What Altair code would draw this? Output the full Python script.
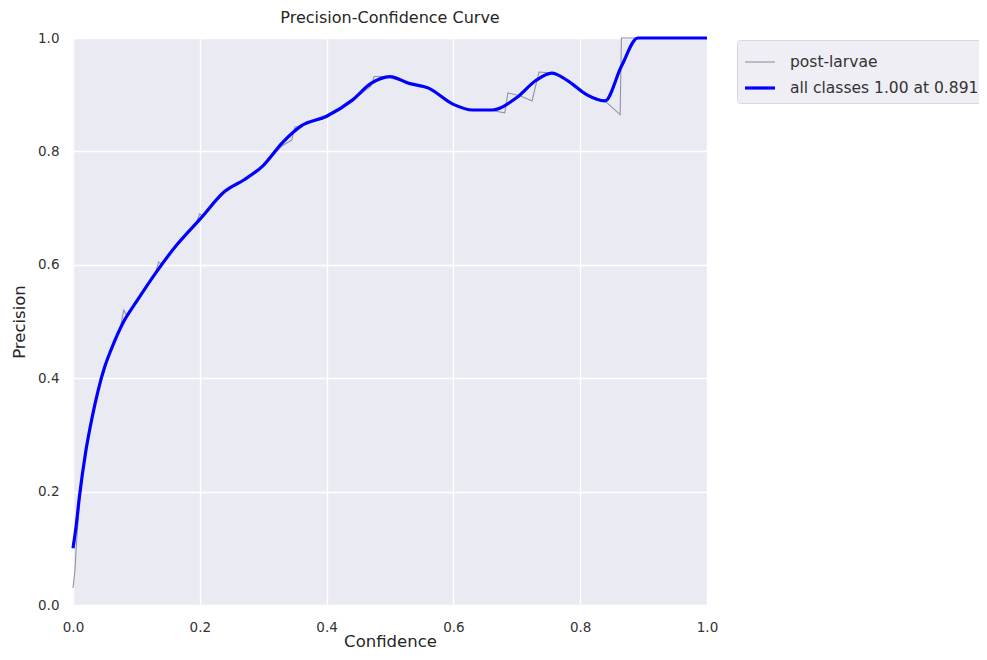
import altair as alt
import pandas as pd

# ---- data ----
series_names = ["post-larvae", "all classes 1.00 at 0.891"]
series_colors = ["#8e92a6", "#0000ff"]
series_widths = [1.1, 3.2]

# thin per-class curve (post-larvae)
conf_pl = [0.0, 0.003, 0.005, 0.01, 0.02, 0.03, 0.04, 0.06, 0.075, 0.08,
           0.085, 0.10, 0.13, 0.135, 0.14, 0.16, 0.195, 0.20, 0.205, 0.24,
           0.27, 0.30, 0.33, 0.345, 0.35, 0.36, 0.40, 0.44, 0.47, 0.475,
           0.49, 0.50, 0.53, 0.56, 0.60, 0.63, 0.66, 0.681, 0.686, 0.705,
           0.724, 0.735, 0.757, 0.78, 0.81, 0.839, 0.863, 0.865, 1.0]
prec_pl = [0.03, 0.06, 0.10, 0.18, 0.27, 0.33, 0.38, 0.45, 0.49, 0.52,
           0.51, 0.535, 0.585, 0.605, 0.60, 0.63, 0.675, 0.69, 0.685, 0.73,
           0.75, 0.775, 0.81, 0.82, 0.843, 0.845, 0.86, 0.89, 0.915, 0.932,
           0.932, 0.93, 0.92, 0.912, 0.883, 0.873, 0.872, 0.868, 0.903, 0.898,
           0.889, 0.94, 0.938, 0.925, 0.90, 0.889, 0.865, 1.0, 1.0]

# thick smoothed curve (all classes)
conf_all = [0.0, 0.005, 0.01, 0.02, 0.03, 0.04, 0.05, 0.06, 0.08, 0.10,
            0.13, 0.16, 0.20, 0.24, 0.27, 0.30, 0.33, 0.36, 0.40, 0.44,
            0.47, 0.50, 0.53, 0.56, 0.60, 0.63, 0.66, 0.70, 0.73, 0.755,
            0.78, 0.81, 0.839, 0.865, 0.891, 0.95, 1.0]
prec_all = [0.10, 0.14, 0.19, 0.27, 0.33, 0.38, 0.42, 0.45, 0.50, 0.535,
            0.585, 0.63, 0.68, 0.73, 0.75, 0.775, 0.815, 0.845, 0.862, 0.89,
            0.92, 0.932, 0.92, 0.912, 0.883, 0.873, 0.873, 0.895, 0.925, 0.938,
            0.925, 0.90, 0.889, 0.95, 1.0, 1.0, 1.0]

axis_ticks = [0.0, 0.2, 0.4, 0.6, 0.8, 1.0]

df_pl = pd.DataFrame({"Confidence": conf_pl, "Precision": prec_pl,
                      "series": series_names[0], "order": range(len(conf_pl))})
df_all = pd.DataFrame({"Confidence": conf_all, "Precision": prec_all,
                       "series": series_names[1], "order": range(len(conf_all))})

FONT = "DejaVu Sans"

x_enc = alt.X("Confidence:Q",
              scale=alt.Scale(domain=[0, 1], nice=False),
              axis=alt.Axis(values=axis_ticks, format=".1f", title="Confidence"))
y_enc = alt.Y("Precision:Q",
              scale=alt.Scale(domain=[0, 1], nice=False),
              axis=alt.Axis(values=axis_ticks, format=".1f", title="Precision"))
color_enc = alt.Color("series:N",
                      scale=alt.Scale(domain=series_names, range=series_colors),
                      legend=alt.Legend(title=None, orient="none",
                                        legendX=664, legendY=2,
                                        symbolType="stroke", symbolSize=900,
                                        labelFont=FONT, labelFontSize=15.5,
                                        labelColor="#333333",
                                        fillColor="#eeeef4", strokeColor="#d8d8e0",
                                        padding=6, rowPadding=-3, labelOffset=13,
                                        cornerRadius=3, labelLimit=400))
sw_enc = alt.StrokeWidth("series:N",
                         scale=alt.Scale(domain=series_names, range=series_widths),
                         legend=alt.Legend(title=None))

thin = alt.Chart(df_pl).mark_line(interpolate="linear").encode(
    x=x_enc, y=y_enc, color=color_enc, strokeWidth=sw_enc, order="order:Q")
thick = alt.Chart(df_all).mark_line(interpolate="monotone").encode(
    x=x_enc, y=y_enc, color=color_enc, strokeWidth=sw_enc, order="order:Q")

chart = alt.layer(thin, thick).properties(
    width=634, height=567,
    autosize=alt.AutoSizeParams(type="none"),
    padding={"left": 65, "top": 30, "right": 272, "bottom": 47},
    title=alt.TitleParams("Precision-Confidence Curve", font=FONT, fontSize=16,
                          fontWeight="normal", color="#262626", offset=5,
                          anchor="middle"),
).configure_view(
    fill="#eaeaf2", stroke=None
).configure_axis(
    grid=True, gridColor="white", gridWidth=1.3, domain=False, ticks=False,
    labelFlush=False,
    labelFont=FONT, labelFontSize=13.5, labelColor="#333333",
    titleFont=FONT, titleFontSize=16.5, titleFontWeight="normal", titleColor="#262626",
).configure_axisX(
    labelPadding=15, titlePadding=0
).configure_axisY(
    labelPadding=14, titlePadding=10
)

chart.save("out.html", embed_options={"renderer": "svg", "actions": False})
